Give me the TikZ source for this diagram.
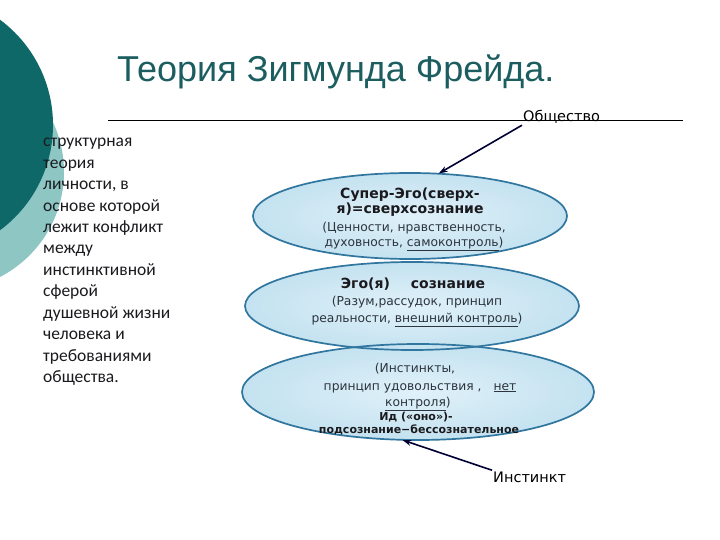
\documentclass[tikz,border=0pt]{standalone}
\usepackage{fontspec}
\setmainfont{DejaVu Sans}
\newfontfamily\titlefont{Liberation Sans}
\newfontfamily\notefont{Carlito}
\usepackage{xcolor}
\usetikzlibrary{arrows.meta, positioning, shapes.geometric}

\definecolor{darkteal}{RGB}{14,104,104}
\definecolor{lightteal}{RGB}{142,198,196}
\definecolor{titleteal}{RGB}{28,94,96}
\definecolor{bubblein}{RGB}{224,241,249}
\definecolor{bubbleout}{RGB}{196,226,240}
\definecolor{bubblerim}{RGB}{48,118,158}
\definecolor{inktext}{RGB}{26,26,30}
\definecolor{softtext}{RGB}{44,52,62}

\begin{document}
\begin{tikzpicture}[x=1pt, y=-1pt,
  bubble/.style={ellipse, inner sep=0pt, inner color=bubblein, outer color=bubbleout},
  rim/.style={draw=bubblerim, line width=1.7pt},
  boldline/.style={anchor=base, text=inktext, font=\fontsize{14}{16}\selectfont\bfseries},
  idbold/.style={anchor=base, text=inktext, font=\fontsize{11}{13}\selectfont\bfseries},
  smallline/.style={anchor=base, text=softtext, font=\fontsize{12.3}{14}\selectfont},
  note/.style={anchor=base west, text=inktext, font=\notefont\fontsize{17.5}{21}\selectfont, inner sep=0pt},
  tag/.style={anchor=base west, text=black, font=\fontsize{14.5}{17}\selectfont, inner sep=1pt},
  pointer/.style={-{Stealth[length=9pt,width=6pt]}, line width=1.6pt, draw=black!80!blue}]
  \useasboundingbox (0,0) rectangle (720,540);

  % corner circles
  \fill[lightteal] (-54,172) circle [radius=118];
  \fill[darkteal] (-78,125) circle [radius=131];

  % title and rule
  \node[anchor=base west, inner sep=0pt, text=titleteal,
    font=\titlefont\fontsize{36}{40}\selectfont] (title) at (117,82)
    {Теория Зигмунда Фрейда.};
  \draw[line width=0.8pt] (108,120) -- (683,120);

  % left column
  \foreach \t [count=\i] in {структурная, теория, {личности, в}, основе которой,
      лежит конфликт, между, инстинктивной, сферой, душевной жизни,
      человека и, требованиями, общества.}{
    \node[note] (note\i) at (43, {147+21.4*(\i-1)}) {\t};
  }

  % the three ellipses: fills first, rims on top
  \foreach \n/\x/\y/\rx/\ry in {id/418/392/176/48, ego/412/306/167/44,
      superego/410/216/157/43}{
    \node[bubble, minimum width=2*\rx, minimum height=2*\ry] (\n) at (\x,\y) {};
  }
  \foreach \n/\rx/\ry in {id/176/48, ego/167/44, superego/157/43}{
    \draw[rim] (\n.center) ellipse [x radius=\rx, y radius=\ry];
  }

  % Super-Ego
  \node[boldline] (sup1) at (410,199) {Супер-Эго(сверх-};
  \node[boldline] (sup2) at (410,214) {я)=сверхсознание};
  \node[smallline] (sup3) at (414,231) {(Ценности, нравственность,};
  \node[smallline] (sup4) at (414,246) {духовность, \underline{самоконтроль})};

  % Ego
  \node[boldline] (ego1) at (413,288) {Эго(я)\hspace{21pt}сознание};
  \node[smallline] (ego2) at (417,305) {(Разум,рассудок, принцип};
  \node[smallline] (ego3) at (417,322) {реальности, \underline{внешний контроль})};

  % Id
  \node[smallline] (id1) at (415,372) {(Инстинкты,};
  \node[smallline] (id2) at (420,390) {принцип удовольствия ,\hspace{12pt}\underline{нет}};
  \node[smallline] (id3) at (418,406) {\underline{контроля})};
  \node[idbold] (id4) at (416,420) {Ид («оно»)-};
  \node[idbold] (id5) at (419,433) {подсознание−бессознательное};

  % outside labels and pointers
  \node[tag] (society) at (522,122) {Общество};
  \node[tag] (instinct) at (492,482) {Инстинкт};
  \draw[pointer] (society.south west) -- (superego.56);
  \draw[pointer] (instinct.north west) -- (id.252);
\end{tikzpicture}
\end{document}
